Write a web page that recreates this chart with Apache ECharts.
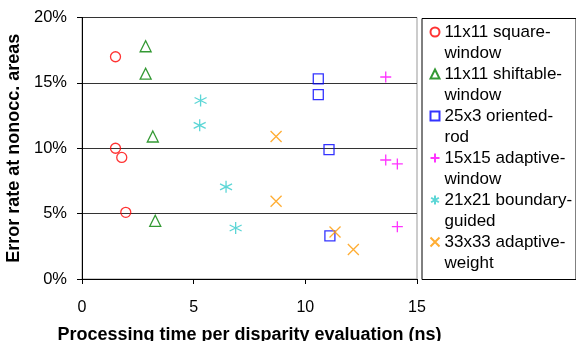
<!DOCTYPE html>
<html>
<head>
<meta charset="utf-8">
<script src="https://cdn.jsdelivr.net/npm/echarts@6/dist/echarts.min.js"></script>
<style>
  html, body { margin: 0; padding: 0; background: #fff; }
  #chart { width: 576px; height: 341px; }
</style>
</head>
<body>
<div id="chart"></div>
<script>
// legend text, each entry wraps onto two lines
const methodNames = [
  ['11x11 square-', 'window'],
  ['11x11 shiftable-', 'window'],
  ['25x3 oriented-', 'rod'],
  ['15x15 adaptive-', 'window'],
  ['21x21 boundary-', 'guided'],
  ['33x33 adaptive-', 'weight'],
];

// [time (ns), error rate (%)]
const squareWindow = [[1.5, 17.0], [1.5, 10.0], [1.78, 9.3], [1.96, 5.1]];
const shiftableWindow = [[2.85, 17.8], [2.85, 15.7], [3.17, 10.9], [3.28, 4.45]];
const orientedRod = [[10.58, 15.3], [10.58, 14.1], [11.06, 9.9], [11.1, 3.3]];
const adaptiveWindow = [[13.6, 15.45], [13.6, 9.1], [14.12, 8.8], [14.12, 4.0]];
const boundaryGuided = [[5.31, 13.65], [5.27, 11.75], [6.45, 7.05], [6.88, 3.9]];
const adaptiveWeight = [[8.69, 10.9], [8.69, 5.95], [11.33, 3.6], [12.15, 2.25]];

const yTicks = [0, 5, 10, 15, 20];
const xTicks = [0, 5, 10, 15];

const FONT = 'Liberation Sans';

const markers = [
  { data: squareWindow, symbol: 'circle', size: 10, color: '#ff0000' },
  { data: shiftableWindow, symbol: 'triangle', size: 11, color: '#008000' },
  { data: orientedRod, symbol: 'rect', size: 10, color: '#0000ff' },
  { data: adaptiveWindow, symbol: 'path://M5,0L5,10M0,5L10,5', size: 11, color: '#ff00ff' },
  { data: boundaryGuided, symbol: 'path://M5,0L5,10M0.7,2.5L9.3,7.5M0.7,7.5L9.3,2.5', size: 12, color: '#33cccc' },
  { data: adaptiveWeight, symbol: 'path://M0,0L10,10M0,10L10,0', size: 11, color: '#ff9900' },
];

const chart = echarts.init(document.getElementById('chart'));

chart.setOption({
  animation: false,
  textStyle: { fontFamily: FONT },
  grid: {
    left: 82,
    right: 159,
    top: 17.5,
    bottom: 62,
    outerBoundsMode: 'none',
    containLabel: false,
    show: true,
    borderColor: '#999',
    borderWidth: 1,
  },
  xAxis: {
    type: 'value',
    min: xTicks[0],
    max: xTicks[xTicks.length - 1],
    interval: 5,
    name: 'Processing time per disparity evaluation (ns)',
    nameLocation: 'middle',
    nameGap: 47,
    nameTextStyle: { fontWeight: 'bold', fontSize: 18, color: '#000' },
    axisLine: { lineStyle: { color: '#000' } },
    axisTick: { show: true, length: 5, lineStyle: { color: '#000' } },
    axisLabel: { fontSize: 16, color: '#000', margin: 21 },
    splitLine: { show: false },
  },
  yAxis: {
    type: 'value',
    min: yTicks[0],
    max: yTicks[yTicks.length - 1],
    interval: 5,
    name: 'Error rate at nonocc. areas',
    nameLocation: 'middle',
    nameGap: 52,
    nameTextStyle: { fontWeight: 'bold', fontSize: 18, color: '#000' },
    axisLine: { show: true, lineStyle: { color: '#000' } },
    axisTick: { show: true, length: 5, lineStyle: { color: '#000' } },
    axisLabel: { fontSize: 16.5, color: '#000', margin: 15, formatter: '{value}%' },
    splitLine: { lineStyle: { color: '#333', width: 1 } },
  },
  legend: {
    orient: 'vertical',
    left: 428,
    top: 0.5,
    padding: 0,
    itemGap: -21,
    itemWidth: 9,
    itemHeight: 9,
    selectedMode: false,
    // blank first line keeps the icon level with the first text line
    formatter: name => ' \n' + name.replace('|', '\n'),
    textStyle: {
      fontSize: 17,
      color: '#000',
      lineHeight: 21,
    },
  },
  graphic: [{
    type: 'rect',
    shape: { x: 422, y: 18.5, width: 154, height: 261 },
    style: { fill: 'none', stroke: '#000', lineWidth: 1 },
    silent: true,
  }],
  series: markers.map((m, i) => ({
    type: 'scatter',
    name: methodNames[i].join('|'),
    data: m.data,
    symbol: m.symbol,
    symbolSize: m.size,
    itemStyle: { color: 'none', borderColor: m.color, borderWidth: 1.3 },
  })),
});
</script>
</body>
</html>
